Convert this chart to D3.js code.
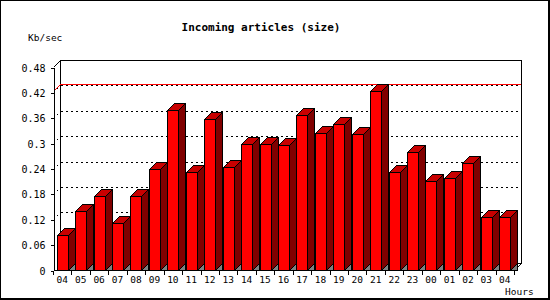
<!DOCTYPE html>
<html>
<head>
<meta charset="utf-8">
<script src="https://cdn.jsdelivr.net/npm/d3@7"></script>
<style>
  body { margin: 0; background: #fff; }
  svg text { font-family: "DejaVu Sans Mono", monospace; fill: #000; }
</style>
</head>
<body>
<div id="chart"></div>
<script>
// data
const hours = ["04","05","06","07","08","09","10","11","12","13","14","15","16",
               "17","18","19","20","21","22","23","00","01","02","03","04"];
const kbPerSec = [0.083, 0.140, 0.174, 0.112, 0.176, 0.239, 0.379, 0.231, 0.357,
                  0.244, 0.298, 0.298, 0.296, 0.367, 0.325, 0.346, 0.322, 0.424,
                  0.232, 0.279, 0.211, 0.218, 0.253, 0.126, 0.126];
const yTicks = [0, 0.06, 0.12, 0.18, 0.24, 0.3, 0.36, 0.42, 0.48];

const width = 550, height = 300;
const depth = 7;          // 3d offset
const barW = 11;

const svg = d3.select("#chart").append("svg")
    .attr("width", width)
    .attr("height", height);

// outer frame
svg.append("rect")
    .attr("x", 0.5).attr("y", 0.5)
    .attr("width", 548).attr("height", 298)
    .attr("fill", "none").attr("stroke", "#000");
svg.append("path")
    .attr("d", "M549.5,0V300M0,299.5H550")
    .attr("stroke", "#000").attr("fill", "none");

// scales
const x = d3.scaleBand()
    .domain(d3.range(hours.length))
    .range([53, 514]);

const y = d3.scaleLinear()
    .domain([0, 0.48])
    .range([270, 67]);

const xLeft = x.range()[0], xRight = x.range()[1];
const yTop = y(0.48), yBottom = y(0);

const g = svg.append("g").attr("shape-rendering", "crispEdges");

// back wall
g.append("rect")
    .attr("x", xLeft + depth + 0.5).attr("y", yTop - depth + 0.5)
    .attr("width", xRight - xLeft).attr("height", yBottom - yTop)
    .attr("fill", "#fff").attr("stroke", "#000");

// left wall top edge + floor right edge
g.append("path")
    .attr("d", `M${xLeft + 0.5},${yTop + 0.5}L${xLeft + depth + 0.5},${yTop - depth + 0.5}` +
               `M${xRight + 0.5},${yBottom + 0.5}L${xRight + depth + 0.5},${yBottom - depth + 0.5}`)
    .attr("stroke", "#000").attr("fill", "none");

// dotted grid lines (left wall + back wall)
g.selectAll("path.grid")
    .data(yTicks.filter(v => v > 0 && v < 0.48))
    .enter().append("path")
    .attr("class", "grid")
    .attr("d", v => {
        const yy = Math.round(y(v)) + 0.5;
        return `M${xLeft + 0.5},${yy}L${xLeft + depth + 0.5},${yy - depth}H${xRight + depth}`;
    })
    .attr("fill", "none")
    .attr("stroke", "#000")
    .attr("stroke-dasharray", "2,3");

// max line
const maxVal = d3.max(kbPerSec);
const ym = Math.round(y(maxVal)) + 0.5;
g.append("path")
    .attr("d", `M${xLeft + 0.5},${ym}L${xLeft + depth + 0.5},${ym - depth}H${xRight + depth}`)
    .attr("fill", "none")
    .attr("stroke", "#ff0000");

// bars
const bars = g.selectAll("g.bar")
    .data(kbPerSec)
    .enter().append("g")
    .attr("class", "bar");

function bx(i) { return Math.round(x(i) + 3.7) + 0.5; }
function by(v) { return Math.round(y(v)) + 0.5; }

// shadow on the floor
bars.append("path")
    .attr("d", (d, i) => {
        const x1 = bx(i) + barW, yb = yBottom + 0.5;
        return `M${x1},${yb}L${x1 + depth},${yb - depth}V${yb}Z`;
    })
    .attr("fill", "#808080").attr("stroke", "#000");

// side face
bars.append("path")
    .attr("d", (d, i) => {
        const x1 = bx(i) + barW, yt = by(d), yb = yBottom + 0.5;
        return `M${x1},${yt}L${x1 + depth},${yt - depth}V${yb - depth}L${x1},${yb}Z`;
    })
    .attr("fill", "#800000").attr("stroke", "#000");

// top face
bars.append("path")
    .attr("d", (d, i) => {
        const x0 = bx(i), yt = by(d);
        return `M${x0},${yt}L${x0 + depth},${yt - depth}H${x0 + barW + depth}L${x0 + barW},${yt}Z`;
    })
    .attr("fill", "#c80000").attr("stroke", "#000");

// front face
bars.append("rect")
    .attr("x", (d, i) => bx(i))
    .attr("y", d => by(d))
    .attr("width", barW)
    .attr("height", d => yBottom + 0.5 - by(d))
    .attr("fill", "#ff0000").attr("stroke", "#000");

// y axis
const yAxis = svg.append("g")
    .attr("transform", `translate(${xLeft + 0.5},0.5)`)
    .attr("shape-rendering", "crispEdges")
    .call(d3.axisLeft(y).tickValues(yTicks).tickFormat(d => String(d))
        .tickSize(3).tickSizeOuter(0).tickPadding(5));
yAxis.selectAll("text")
    .style("font-family", "DejaVu Sans Mono, monospace")
    .style("font-size", "10px")
    .attr("dy", "0.35em");

// x axis (labels at band centres, ticks at band edges)
const xAxis = svg.append("g")
    .attr("transform", `translate(0,${yBottom + 0.5})`)
    .attr("shape-rendering", "crispEdges")
    .call(d3.axisBottom(x).tickFormat(i => hours[i]).tickSize(0).tickSizeOuter(0).tickPadding(6));
xAxis.select(".domain").attr("d", `M${xLeft + 0.5},0H${xRight + 0.5}`);
xAxis.selectAll("text")
    .style("font-family", "DejaVu Sans Mono, monospace")
    .style("font-size", "9.5px");

xAxis.selectAll("line.edge")
    .data(d3.range(hours.length + 1))
    .enter().append("line")
    .attr("class", "edge")
    .attr("x1", i => Math.round(i < hours.length ? x(i) : xRight) + 0.5)
    .attr("x2", i => Math.round(i < hours.length ? x(i) : xRight) + 0.5)
    .attr("y1", 0).attr("y2", 4)
    .attr("stroke", "#000");

// titles
svg.append("text")
    .attr("x", 261).attr("y", 30.5)
    .attr("text-anchor", "middle")
    .style("font-size", "11px")
    .style("font-weight", "bold")
    .text("Incoming articles (size)");

svg.append("text")
    .attr("x", 28).attr("y", 40.5)
    .style("font-size", "9.5px")
    .text("Kb/sec");

svg.append("text")
    .attr("x", 505).attr("y", 295)
    .style("font-size", "9.5px")
    .text("Hours");
</script>
</body>
</html>
